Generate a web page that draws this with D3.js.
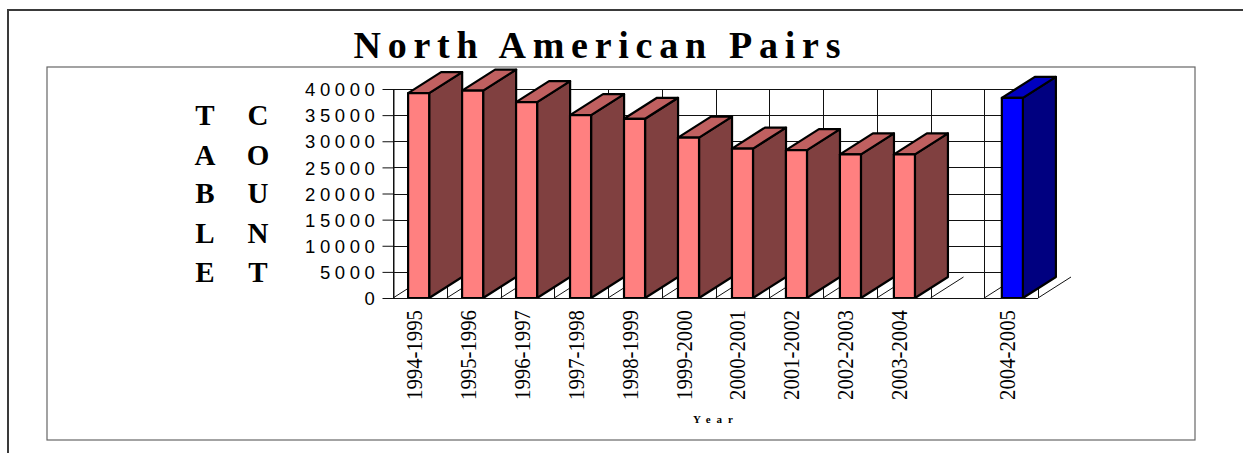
<!DOCTYPE html>
<html>
<head>
<meta charset="utf-8">
<script src="https://cdn.jsdelivr.net/npm/d3@7"></script>
<style>
  body { margin: 0; background: #fff; }
  svg { display: block; }
</style>
</head>
<body>
<div id="wrapper"></div>
<script>
// data
const seasons = [
  "1994-1995", "1995-1996", "1996-1997", "1997-1998", "1998-1999",
  "1999-2000", "2000-2001", "2001-2002", "2002-2003", "2003-2004",
  " ", "2004-2005"
];
const tableCounts = [
  39200, 39700, 37500, 35000, 34300,
  30700, 28600, 28300, 27500, 27500,
  null, 38300
];
const currentSeason = "2004-2005";
const yTicks = [0, 5000, 10000, 15000, 20000, 25000, 30000, 35000, 40000];

function drawChart() {
  const width = 1243;
  const height = 453;

  // plot box (back wall) in page coords
  const wall = { left: 393, right: 1038, top: 89, bottom: 298 };
  const depth = { dx: 33, dy: -21 };

  const svg = d3
    .select("#wrapper")
    .append("svg")
    .attr("width", width)
    .attr("height", height);

  // borders
  svg.append("rect")
    .attr("x", 8).attr("y", 10)
    .attr("width", 1400).attr("height", 600)
    .attr("fill", "none")
    .attr("stroke", "#3a3a3a")
    .attr("stroke-width", 2);

  svg.append("rect")
    .attr("x", 47).attr("y", 67)
    .attr("width", 1148).attr("height", 373)
    .attr("fill", "none")
    .attr("stroke", "#666")
    .attr("stroke-width", 1.2);

  // scales
  const xScale = d3
    .scaleBand()
    .domain(seasons)
    .range([wall.left, wall.right])
    .paddingInner(0.61)
    .paddingOuter(0.28);

  const yScale = d3
    .scaleLinear()
    .domain([0, 40000])
    .range([wall.bottom, wall.top]);

  const step = (wall.right - wall.left) / seasons.length;
  const boundaries = d3.range(seasons.length + 1).map((i) => wall.left + i * step);

  // wall grid
  const grid = svg.append("g")
    .attr("stroke", "#111")
    .attr("stroke-width", 1)
    .attr("shape-rendering", "crispEdges");

  grid.selectAll(".hgrid")
    .data(yTicks)
    .join("line")
    .attr("x1", wall.left)
    .attr("x2", wall.right)
    .attr("y1", (d) => Math.round(yScale(d)) + 0.5)
    .attr("y2", (d) => Math.round(yScale(d)) + 0.5);

  grid.selectAll(".vgrid")
    .data(boundaries)
    .join("line")
    .attr("x1", (d) => Math.round(d) + 0.5)
    .attr("x2", (d) => Math.round(d) + 0.5)
    .attr("y1", wall.top)
    .attr("y2", wall.bottom);

  // floor diagonals
  svg.append("g")
    .attr("stroke", "#111")
    .attr("stroke-width", 1)
    .selectAll("line")
    .data(boundaries)
    .join("line")
    .attr("x1", (d) => d)
    .attr("y1", wall.bottom)
    .attr("x2", (d) => d + depth.dx)
    .attr("y2", wall.bottom + depth.dy);

  // bars
  const colors = {
    normal: { front: "#ff8080", side: "#804040", top: "#c06060" },
    current: { front: "#0000ff", side: "#000080", top: "#0000c0" },
  };

  const barData = seasons
    .map((s, i) => ({ season: s, value: tableCounts[i] }))
    .filter((d) => d.value != null);

  const bars = svg.append("g")
    .selectAll("g")
    .data(barData)
    .join("g")
    .attr("stroke", "#000")
    .attr("stroke-width", 2.2)
    .attr("stroke-linejoin", "round");

  const pal = (d) => (d.season === currentSeason ? colors.current : colors.normal);
  const x0 = (d) => xScale(d.season);
  const x1 = (d) => xScale(d.season) + xScale.bandwidth();
  const yT = (d) => yScale(d.value);
  const yB = yScale(0);

  bars.append("polygon")
    .attr("fill", (d) => pal(d).side)
    .attr("points", (d) => [
      [x1(d), yT(d)], [x1(d), yB],
      [x1(d) + depth.dx, yB + depth.dy], [x1(d) + depth.dx, yT(d) + depth.dy]
    ].join(" "));

  bars.append("polygon")
    .attr("fill", (d) => pal(d).top)
    .attr("points", (d) => [
      [x0(d), yT(d)], [x1(d), yT(d)],
      [x1(d) + depth.dx, yT(d) + depth.dy], [x0(d) + depth.dx, yT(d) + depth.dy]
    ].join(" "));

  bars.append("rect")
    .attr("fill", (d) => pal(d).front)
    .attr("x", x0)
    .attr("y", yT)
    .attr("width", xScale.bandwidth())
    .attr("height", (d) => yB - yT(d));

  // floor front edge
  svg.append("line")
    .attr("x1", wall.left).attr("x2", wall.right)
    .attr("y1", wall.bottom + 0.5).attr("y2", wall.bottom + 0.5)
    .attr("stroke", "#111");

  // y axis
  const yAxisGenerator = d3.axisLeft(yScale)
    .tickValues(yTicks)
    .tickSize(11)
    .tickSizeOuter(0)
    .tickPadding(4);

  const yAxis = svg.append("g")
    .attr("transform", `translate(${wall.left + 0.5},0)`)
    .call(yAxisGenerator);

  yAxis.select(".domain").attr("stroke", "#111");
  yAxis.selectAll(".tick line").attr("stroke", "#111");
  yAxis.selectAll(".tick text")
    .attr("font-family", "'Liberation Sans', Arial, sans-serif")
    .attr("font-size", 18.5)
    .attr("letter-spacing", "4.6px")
    .attr("fill", "#000")
    .attr("x", -14)
    .attr("dy", "0.36em")
    .text((d) => d);

  // x labels
  svg.append("g")
    .selectAll("text")
    .data(seasons.filter((s) => s.trim() !== ""))
    .join("text")
    .attr("transform", (d) =>
      `translate(${xScale(d) + xScale.bandwidth() / 2 + 3},310) rotate(-90)`)
    .attr("text-anchor", "end")
    .attr("font-family", "'Liberation Serif', 'Times New Roman', serif")
    .attr("font-size", 24)
    .attr("textLength", 90)
    .attr("lengthAdjust", "spacingAndGlyphs")
    .text((d) => d);

  // x axis title
  svg.append("text")
    .attr("x", 713)
    .attr("y", 423)
    .attr("text-anchor", "middle")
    .attr("font-family", "'Liberation Serif', 'Times New Roman', serif")
    .attr("font-weight", "bold")
    .attr("font-size", 11)
    .attr("textLength", 40)
    .attr("lengthAdjust", "spacing")
    .text("Year");

  // y axis title, stacked letters
  const rows = [125, 165, 203, 243, 282];
  const yTitle = svg.append("g")
    .attr("font-family", "'Liberation Serif', 'Times New Roman', serif")
    .attr("font-weight", "bold")
    .attr("font-size", 29)
    .attr("text-anchor", "middle");

  [["TABLE", 205], ["COUNT", 258]].forEach(([word, cx]) => {
    yTitle.selectAll(null)
      .data(word.split(""))
      .join("text")
      .attr("x", cx)
      .attr("y", (d, i) => rows[i])
      .text((d) => d);
  });

  // title
  svg.append("text")
    .attr("x", 597)
    .attr("y", 58)
    .attr("text-anchor", "middle")
    .attr("font-family", "'Liberation Serif', 'Times New Roman', serif")
    .attr("font-weight", "bold")
    .attr("font-size", 38)
    .attr("textLength", 487)
    .attr("lengthAdjust", "spacing")
    .text("North American Pairs");
}
drawChart();
</script>
</body>
</html>
